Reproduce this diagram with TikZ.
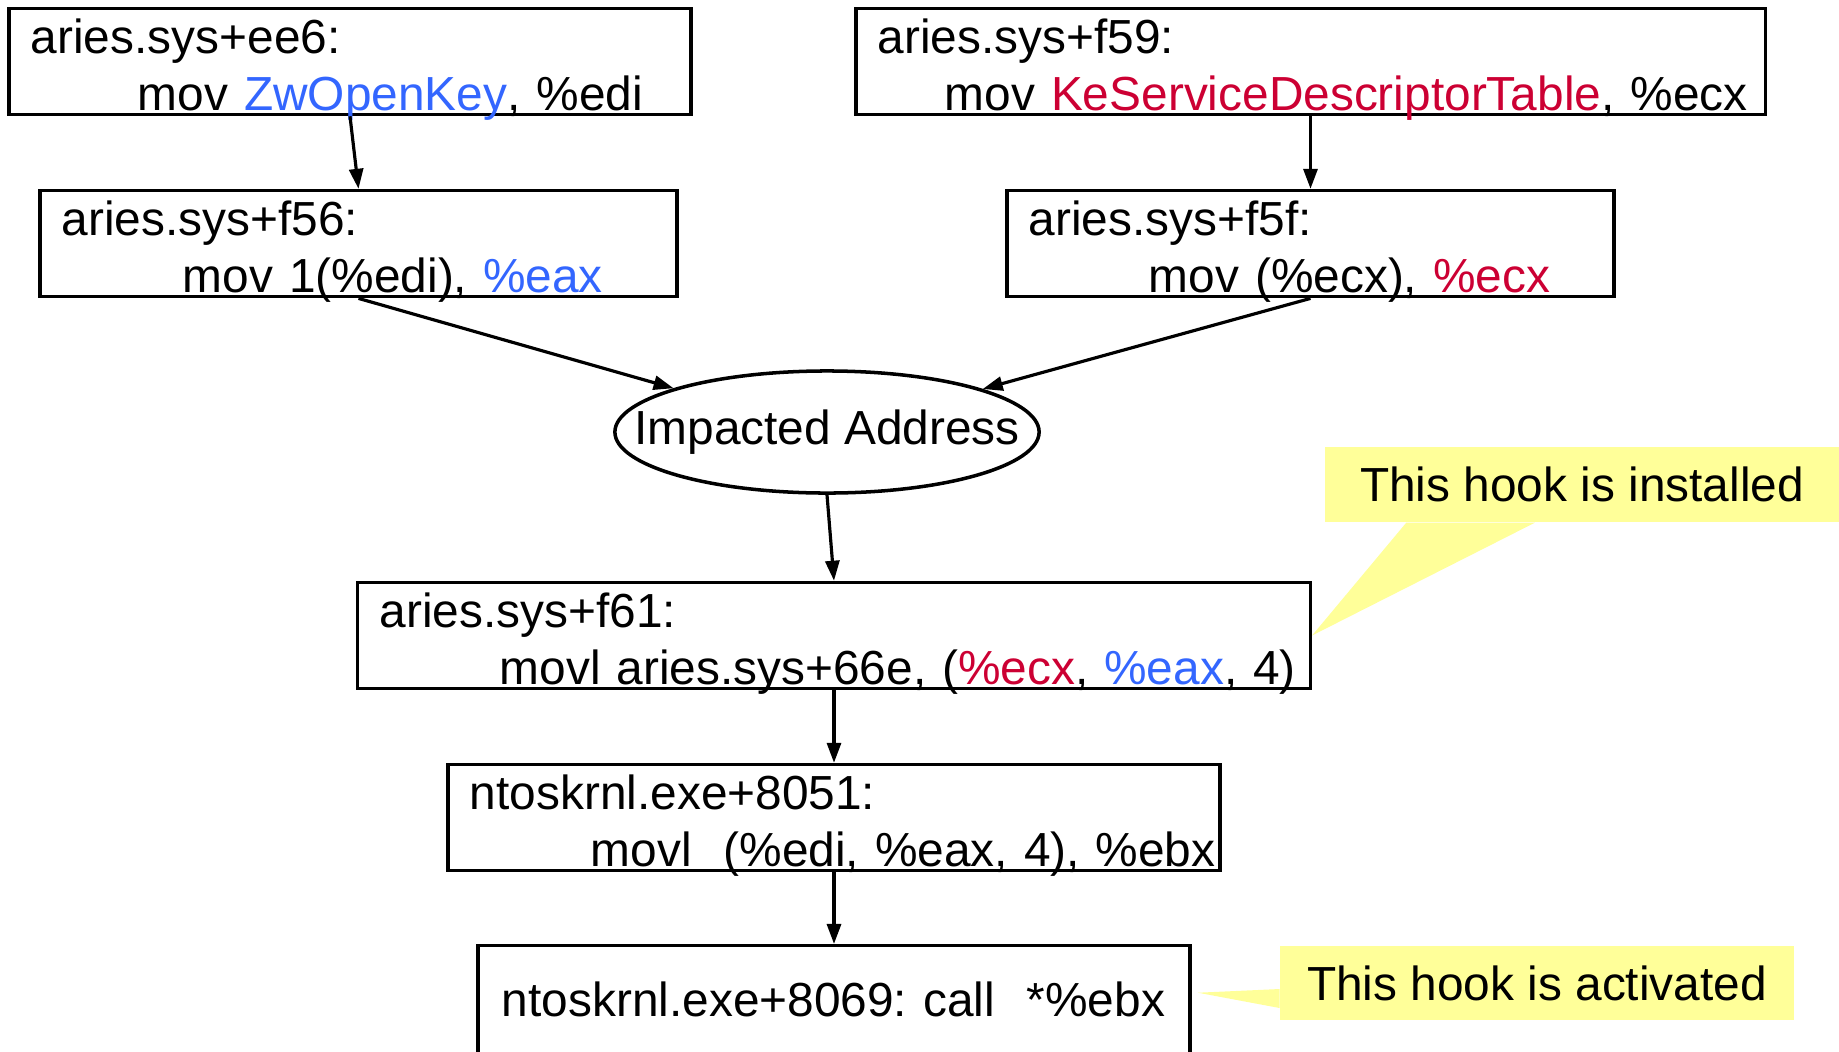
\documentclass[tikz,border=0pt]{standalone}
\usepackage{fontspec}
\setmainfont{Liberation Sans}
\usepackage{xcolor}
\usepackage{tikz}
\usetikzlibrary{arrows.meta,shapes.geometric,positioning}
\definecolor{regBlue}{HTML}{3366FF}
\definecolor{regRed}{HTML}{CC0033}
\definecolor{hookYellow}{HTML}{FFFF99}

\begin{document}
\begin{tikzpicture}[x=0.01cm, y=-0.01cm, node distance=1.82cm,
        every node/.style={font=\fontsize{13.6}{16.2}\selectfont\frenchspacing},
        insn/.style={draw, line width=1pt, align=left, inner xsep=0.22cm, inner ysep=0pt, minimum height=1.06cm, text height=0.41cm, text depth=0.57cm},
        hook/.style={fill=hookYellow, minimum width=5.13cm, minimum height=0.75cm, inner sep=0pt},
        flow/.style={-{Triangle[length=0.2cm, width=0.14cm]}, line width=0.9pt}]

        \useasboundingbox (0,0) rectangle (1839,1051);

        % the two loads that meet in the impacted address
        \node (ee6) [insn, text width=6.38cm] at (350,61.5) {aries.sys+ee6:\\\hspace*{1.07cm}\mbox{mov \textcolor{regBlue}{ZwOpenKey}, \%edi}};
        \node (f56) [insn, text width=5.93cm, below of=ee6, xshift=0.085cm] {aries.sys+f56:\\\hspace*{1.21cm}\mbox{mov 1(\%edi), \textcolor{regBlue}{\%eax}}};

        \node (f59) [insn, text width=8.65cm] at (1310.5,61.5) {aries.sys+f59:\\\hspace*{0.67cm}\mbox{mov \textcolor{regRed}{KeServiceDescriptorTable}, \%ecx}};
        \node (f5f) [insn, text width=5.63cm, below of=f59] {aries.sys+f5f:\\\hspace*{1.2cm}\mbox{mov (\%ecx), \textcolor{regRed}{\%ecx}}};

        \node (addr) [draw, ellipse, line width=1pt, inner xsep=-1cm, inner ysep=0pt, minimum width=4.24cm, minimum height=1.22cm] at (827,432) {Impacted Address};

        \node (f61) [insn, text width=9.08cm] at (834,635.5) {aries.sys+f61:\\\hspace*{1.2cm}\mbox{movl aries.sys+66e, (\textcolor{regRed}{\%ecx}, \textcolor{regBlue}{\%eax}, 4)}};
        \node (k8051) [insn, text width=7.28cm, below of=f61] {ntoskrnl.exe+8051:\\\hspace*{1.21cm}\mbox{movl~~(\%edi, \%eax, 4), \%ebx}};
        \node (k8069) [draw, line width=1pt, align=left, text width=6.64cm, inner xsep=0.24cm, minimum height=1.08cm, below of=k8051] {\mbox{ntoskrnl.exe+8069: call~~*\%ebx}};

        \draw[flow] (ee6.south) -- (f56.north);
        \draw[flow] (f59.south) -- (f5f.north);
        \draw[flow] (f56.south) -- (addr);
        \draw[flow] (f5f.south) -- (addr);
        \draw[flow] (addr.south) -- (f61.north);
        \draw[flow] (f61.south) -- (k8051.north);
        \draw[flow] (k8051.south) -- (k8069.north);

        % callouts
        \node (installed) [hook] at (1582,484.5) {This hook is installed};
        \fill[hookYellow] ([xshift=0.815cm]installed.south west) -- (f61.east) -- ([xshift=2.1cm]installed.south west) -- cycle;

        \node (activated) [hook, minimum height=0.74cm] at (1537,983) {This hook is activated};
        \fill[hookYellow] ([yshift=-0.06cm]activated.west) -- ([xshift=0.06cm, yshift=0.07cm]k8069.east) -- ([yshift=-0.25cm]activated.west) -- cycle;
    \end{tikzpicture}
\end{document}
